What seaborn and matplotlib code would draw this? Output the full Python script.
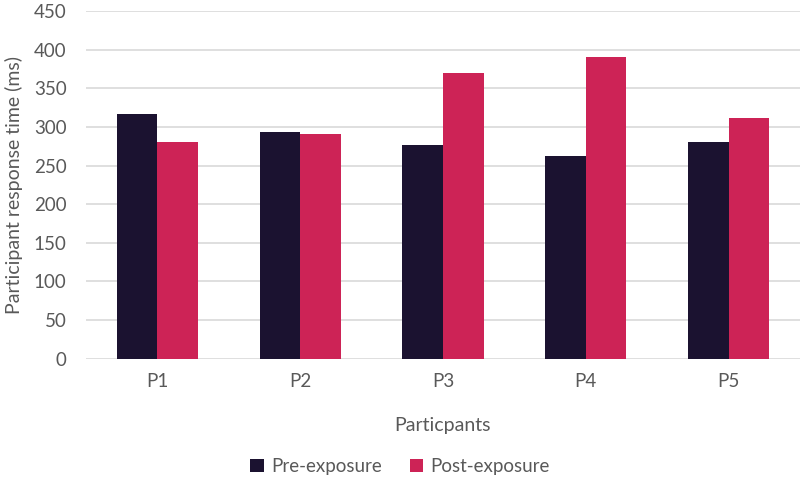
import matplotlib
matplotlib.use("Agg")
import matplotlib.pyplot as plt
import seaborn as sns
import pandas as pd

participants = ["P1", "P2", "P3", "P4", "P5"]
pre_exposure = [317, 293, 277, 262, 281]
post_exposure = [280, 291, 370, 390, 312]
series_names = ["Pre-exposure", "Post-exposure"]
colors = ["#1b1230", "#cd2356"]

df = pd.DataFrame({
    "Participant": participants * 2,
    "Series": [series_names[0]] * 5 + [series_names[1]] * 5,
    "Value": pre_exposure + post_exposure,
})

sns.set_theme(style="white")
plt.rcParams["font.family"] = ["Lato", "DejaVu Sans"]

fig = plt.figure(figsize=(8, 4.79), dpi=100)
ax = fig.add_axes([0.1075, 0.251, 0.8925, 0.726])

sns.barplot(data=df, x="Participant", y="Value", hue="Series",
            palette=colors, width=0.57, saturation=1, ax=ax, legend=True,
            linewidth=0, edgecolor="none")

ax.set_ylim(0, 450)
ax.set_yticks(range(0, 451, 50))
ax.set_xlim(-0.5, 4.5)
ax.yaxis.grid(True, color="#d9d9d9", linewidth=1.2)
ax.set_axisbelow(True)
for s in ax.spines.values():
    s.set_visible(False)
ax.tick_params(axis="both", length=0, colors="#595959", labelsize=13.5)
ax.tick_params(axis="y", pad=14)
ax.tick_params(axis="x", pad=10)
ax.set_ylabel("Participant response time (ms)", color="#595959", fontsize=14, labelpad=8)
ax.set_xlabel("Particpants", color="#595959", fontsize=14, labelpad=20)

handles, labels = ax.get_legend_handles_labels()
ax.legend(handles, labels, loc="center", bbox_to_anchor=(0.44, -0.31),
          ncol=2, frameon=False, fontsize=13.5, handlelength=0.7, handleheight=0.7,
          handletextpad=0.4, columnspacing=1.5, labelcolor="#595959")

fig.savefig("out.png", dpi=100)
